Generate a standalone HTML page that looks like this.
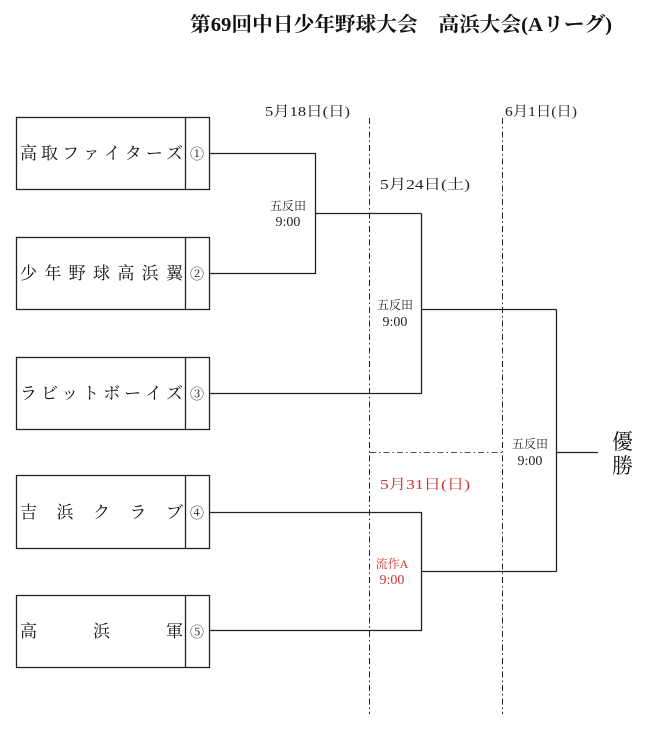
<!DOCTYPE html>
<html><head><meta charset="utf-8"><style>
html,body{margin:0;padding:0;background:#fff;}
svg{display:block;font-family:"Liberation Serif","Noto Serif CJK SC","Noto Sans CJK JP",serif;}
</style></head><body>
<svg width="650" height="737" viewBox="0 0 650 737" xmlns="http://www.w3.org/2000/svg">
<text x="190" y="31" font-size="20" font-weight="bold" textLength="422" lengthAdjust="spacingAndGlyphs" fill="#111">第69回中日少年野球大会　高浜大会(Aリーグ)</text>

<g fill="none" stroke="#222" stroke-width="1.3">
<rect x="16.5" y="117.5" width="193" height="72"/><line x1="185.5" y1="117.5" x2="185.5" y2="189.5"/>
<rect x="16.5" y="237.5" width="193" height="72"/><line x1="185.5" y1="237.5" x2="185.5" y2="309.5"/>
<rect x="16.5" y="357.5" width="193" height="72"/><line x1="185.5" y1="357.5" x2="185.5" y2="429.5"/>
<rect x="16.5" y="475.5" width="193" height="73"/><line x1="185.5" y1="475.5" x2="185.5" y2="548.5"/>
<rect x="16.5" y="595.5" width="193" height="72"/><line x1="185.5" y1="595.5" x2="185.5" y2="667.5"/>

<polyline points="209,153.5 315.5,153.5 315.5,273.5 209,273.5"/>
<line x1="315.5" y1="213.5" x2="421.5" y2="213.5"/>
<polyline points="209,393.5 421.5,393.5 421.5,213.5"/>
<line x1="421.5" y1="309.5" x2="556.5" y2="309.5"/>
<polyline points="209,512.5 421.5,512.5 421.5,630.5 209,630.5"/>
<line x1="421.5" y1="571.5" x2="556.5" y2="571.5"/>
<polyline points="556.5,309.5 556.5,571.5"/>
<line x1="556.5" y1="452.5" x2="598" y2="452.5"/>
</g>
<g fill="none" stroke="#222" stroke-width="1" stroke-dasharray="6,3,1.5,3">
<line x1="369.5" y1="118" x2="369.5" y2="714"/>
<line x1="502.5" y1="118" x2="502.5" y2="714"/>
<line x1="370" y1="452.5" x2="502" y2="452.5" stroke="#555"/>
</g>

<g font-size="17" fill="#111">
<text x="20" y="159" textLength="163" lengthAdjust="spacing">高取ファイターズ</text>
<text x="20" y="279" textLength="163" lengthAdjust="spacing">少年野球高浜翼</text>
<text x="20" y="399" textLength="163" lengthAdjust="spacing">ラビットボーイズ</text>
<text x="20" y="518" textLength="163" lengthAdjust="spacing">吉浜クラブ</text>
<text x="20" y="637" textLength="163" lengthAdjust="spacing">高浜軍</text>
</g>
<g font-size="14" fill="#111" text-anchor="middle">
<text x="197" y="159">①</text><text x="197" y="279">②</text><text x="197" y="399">③</text><text x="197" y="518">④</text><text x="197" y="637">⑤</text>
</g>

<g font-size="14" fill="#222">
<text x="265" y="116" textLength="85" lengthAdjust="spacingAndGlyphs">5月18日(日)</text>
<text x="505" y="116" textLength="72" lengthAdjust="spacingAndGlyphs">6月1日(日)</text>
<text x="380" y="189" textLength="90" lengthAdjust="spacingAndGlyphs">5月24日(土)</text>
<text x="380" y="489" fill="#d03030" textLength="90" lengthAdjust="spacingAndGlyphs">5月31日(日)</text>
</g>
<g font-size="12" fill="#222" text-anchor="middle">
<text x="288" y="210">五反田</text><text x="288" y="226" font-size="14">9:00</text>
<text x="395" y="309">五反田</text><text x="395" y="326" font-size="14">9:00</text>
<text x="530" y="448">五反田</text><text x="530" y="465" font-size="14">9:00</text>
<text x="392" y="568" fill="#d03030">流作A</text><text x="392" y="584" font-size="14" fill="#d03030">9:00</text>
</g>
<g font-size="21" fill="#111">
<text x="612" y="449">優</text><text x="612" y="473">勝</text>
</g>
</svg>
</body></html>
